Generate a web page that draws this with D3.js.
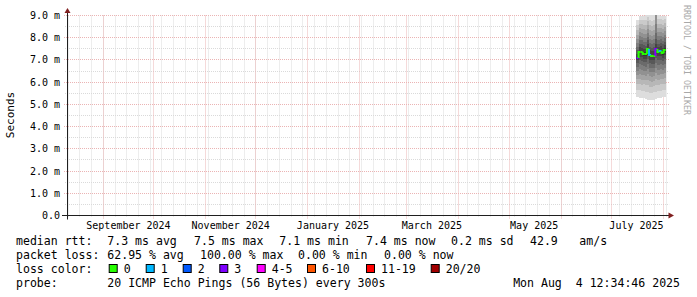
<!DOCTYPE html>
<html><head><meta charset="utf-8">
<script src="https://cdn.jsdelivr.net/npm/d3@7"></script>
<style>
body{margin:0;background:#fff}
svg{display:block}
text{font-family:"DejaVu Sans Mono",monospace;white-space:pre}
</style>
</head><body>
<svg id="c" width="697" height="297"></svg>
<script>
// ---------- data ----------
const timeStart = "2024-08-10T08:24:00Z";
const timeEnd = "2025-08-04T12:34:46Z";
const yTicks = [0, 1, 2, 3, 4, 5, 6, 7, 8, 9];               // ms
const yTickLabels = ["0.0", "1.0 m", "2.0 m", "3.0 m", "4.0 m", "5.0 m", "6.0 m", "7.0 m", "8.0 m", "9.0 m"];
const monthLabelDates = ["2024-09-01", "2024-11-01", "2025-01-01", "2025-03-01", "2025-05-01", "2025-07-01"];
const monthLabels = ["September 2024", "November 2024", "January 2025", "March 2025", "May 2025", "July 2025"];

const colTimes = ["2025-07-16T00:00Z", "2025-07-17T06:00Z", "2025-07-18T12:00Z", "2025-07-19T18:00Z",
  "2025-07-21T00:00Z", "2025-07-22T06:00Z", "2025-07-23T12:00Z", "2025-07-24T18:00Z",
  "2025-07-26T00:00Z", "2025-07-27T06:00Z", "2025-07-28T12:00Z", "2025-07-29T18:00Z",
  "2025-07-31T00:00Z", "2025-08-01T06:00Z"];
const colLastEnd = "2025-08-02T12:00Z";
const medians = [7.09, 7.36, 7.36, 7.27, 7.27, 7.49, 7.22, 7.18, 7.18, 7.49, 7.36, 7.40, 7.31, 7.45]; // ms
const lossIdx = [3, 0, 0, 0, 0, 0, 1, 0, 0, 3, 0, 1, 0, 0];   // index into loss legend
// 20 sorted ping rtts per column (ms)
const pings = [
  [5.32, 5.66, 5.92, 6.14, 6.34, 6.52, 6.70, 6.86, 6.98, 7.06, 7.12, 7.28, 7.44, 7.60, 7.78, 7.96, 8.14, 8.34, 8.56, 8.80],
  [5.30, 5.64, 5.92, 6.16, 6.38, 6.60, 6.80, 6.98, 7.14, 7.30, 7.42, 7.58, 7.74, 7.90, 8.06, 8.24, 8.42, 8.60, 8.80, 8.98],
  [5.28, 5.60, 5.88, 6.12, 6.34, 6.56, 6.78, 6.96, 7.14, 7.30, 7.42, 7.56, 7.72, 7.88, 8.04, 8.22, 8.40, 8.60, 8.82, 9.00],
  [5.30, 5.62, 5.90, 6.12, 6.32, 6.52, 6.72, 6.90, 7.06, 7.20, 7.34, 7.50, 7.66, 7.82, 8.00, 8.18, 8.38, 8.58, 8.80, 9.00],
  [5.26, 5.58, 5.86, 6.10, 6.30, 6.50, 6.70, 6.90, 7.06, 7.20, 7.34, 7.48, 7.64, 7.80, 7.98, 8.16, 8.36, 8.58, 8.82, 9.02],
  [5.22, 5.56, 5.86, 6.12, 6.36, 6.60, 6.84, 7.04, 7.24, 7.42, 7.56, 7.72, 7.88, 8.04, 8.20, 8.38, 8.56, 8.74, 8.92, 9.06],
  [5.20, 5.52, 5.80, 6.04, 6.26, 6.46, 6.66, 6.86, 7.02, 7.16, 7.28, 7.44, 7.60, 7.78, 7.96, 8.14, 8.34, 8.56, 8.80, 9.04],
  [5.20, 5.50, 5.78, 6.02, 6.24, 6.44, 6.64, 6.82, 6.98, 7.12, 7.24, 7.40, 7.56, 7.74, 7.92, 8.10, 8.30, 8.52, 8.76, 9.02],
  [5.22, 5.54, 5.82, 6.06, 6.28, 6.48, 6.66, 6.84, 7.00, 7.12, 7.24, 7.40, 7.58, 7.76, 7.94, 8.14, 8.34, 8.56, 8.80, 9.04],
  [5.26, 5.58, 5.88, 6.14, 6.40, 6.64, 6.88, 7.08, 7.26, 7.42, 7.56, 7.74, 7.94, 8.20, 8.60, 9.20, 9.40, 9.50, 9.60, 9.70],
  [5.28, 5.60, 5.88, 6.12, 6.34, 6.56, 6.78, 6.98, 7.16, 7.30, 7.42, 7.58, 7.74, 7.90, 8.08, 8.26, 8.44, 8.64, 8.84, 9.02],
  [5.30, 5.62, 5.90, 6.14, 6.38, 6.60, 6.82, 7.02, 7.20, 7.34, 7.46, 7.62, 7.78, 7.94, 8.10, 8.28, 8.46, 8.64, 8.84, 9.00],
  [5.32, 5.64, 5.92, 6.16, 6.36, 6.56, 6.76, 6.94, 7.10, 7.24, 7.38, 7.54, 7.70, 7.86, 8.02, 8.20, 8.38, 8.58, 8.78, 8.96],
  [5.34, 5.66, 5.94, 6.18, 6.40, 6.62, 6.84, 7.04, 7.22, 7.38, 7.52, 7.66, 7.82, 7.98, 8.14, 8.30, 8.48, 8.66, 8.84, 9.00]
];
const lossLabels = ["0", "1", "2", "3", "4-5", "6-10", "11-19", "20/20"];
const lossColors = ["#26ff00", "#00b8ff", "#0059ff", "#7e00ff", "#ff00ff", "#ff5500", "#ff0000", "#a10000"];
const legendRtt = [["median rtt:", 16], ["7.3 ms avg", 107.3], ["7.5 ms max", 194], ["7.1 ms min", 279.3],
  ["7.4 ms now", 366], ["0.2 ms sd", 451], ["42.9", 530], ["am/s", 579.3]];
const legendLoss = [["packet loss:", 16], ["62.95 % avg", 107.3], ["100.00 % max", 200], ["0.00 % min", 298], ["0.00 % now", 384]];
const lossBoxX = [108.7, 145.7, 182.7, 219.3, 256.7, 307, 366, 430.7];
const probeText = "20 ICMP Echo Pings (56 Bytes) every 300s";
const dateText = "Mon Aug  4 12:34:46 2025";

// ---------- drawing ----------
const svg = d3.select("#c");
const X0 = 67, X1 = 669.2, Y0 = 215.5, Y1 = 15.5;
const x = d3.scaleUtc().domain([new Date(timeStart), new Date(timeEnd)]).range([X0, X1]);
const y = d3.scaleLinear().domain([0, 9]).range([Y0, Y1]);
const snap = v => Math.round(v - 0.5) + 0.5;

const minorCol = "#dadada", majorCol = "#ebb4b4";
const grid = svg.append("g");
// vertical minor (weeks)
d3.utcSunday.range(new Date(timeStart), new Date(timeEnd)).forEach(d => {
  const xx = snap(x(d));
  grid.append("line").attr("x1", xx).attr("x2", xx).attr("y1", Y1).attr("y2", Y0 + 2)
    .attr("stroke", minorCol).attr("stroke-dasharray", "1,1");
});
// horizontal minor (0.5 ms)
d3.range(0.5, 9, 1).forEach(v => {
  const yy = snap(y(v));
  grid.append("line").attr("x1", X0 - 2).attr("x2", X1).attr("y1", yy).attr("y2", yy)
    .attr("stroke", minorCol).attr("stroke-dasharray", "1,1");
});
// vertical major (months)
d3.utcMonth.range(new Date(timeStart), new Date(timeEnd)).forEach(d => {
  const xx = snap(x(d));
  grid.append("line").attr("x1", xx).attr("x2", xx).attr("y1", Y1).attr("y2", Y0 + 3)
    .attr("stroke", majorCol).attr("stroke-dasharray", "1,1");
});
// horizontal major
yTicks.slice(1).forEach(v => {
  const yy = snap(y(v));
  grid.append("line").attr("x1", X0 - 3).attr("x2", X1).attr("y1", yy).attr("y2", yy)
    .attr("stroke", majorCol).attr("stroke-dasharray", "1,1");
});

// smoke
svg.append("clipPath").attr("id", "pc").append("rect")
  .attr("x", X0).attr("y", Y1 - 0.5).attr("width", X1 - X0).attr("height", Y0 - Y1);
const smoke = svg.append("g").attr("clip-path", "url(#pc)");
const half = 10;
pings.forEach((p, j) => {
  const xa = x(new Date(colTimes[j]));
  const xb = x(new Date(j + 1 < colTimes.length ? colTimes[j + 1] : colLastEnd));
  for (let i = 1; i <= half; i++) {
    const c = Math.floor(190 / half * (half - i)) + 50;
    const top = y(p[20 - i]), bot = y(p[i - 1]);
    smoke.append("rect").attr("x", xa).attr("width", xb - xa)
      .attr("y", top).attr("height", bot - top)
      .attr("fill", d3.rgb(c, c, c)).attr("shape-rendering", "crispEdges");
  }
});
// median
const med = svg.append("g").attr("clip-path", "url(#pc)");
medians.forEach((m, j) => {
  const xa = x(new Date(colTimes[j]));
  const xb = x(new Date(j + 1 < colTimes.length ? colTimes[j + 1] : colLastEnd));
  const yp = j > 0 ? y(medians[j - 1]) : y(m);
  med.append("path")
    .attr("d", `M${xa},${yp}V${y(m)}H${xb}`)
    .attr("fill", "none").attr("stroke", lossColors[lossIdx[j]]).attr("stroke-width", 2);
});

// axes
const axisCol = "#1f1f1f", arrowCol = "#801f1f";
svg.append("line").attr("x1", X0 + 0.5).attr("x2", X0 + 0.5).attr("y1", Y0 + 4).attr("y2", 12)
  .attr("stroke", axisCol);
svg.append("line").attr("x1", X0 - 5).attr("x2", 670).attr("y1", Y0).attr("y2", Y0)
  .attr("stroke", axisCol);
svg.append("path").attr("d", "M64.5,13L70.5,13L67.5,8Z").attr("fill", arrowCol);
svg.append("path").attr("d", "M668.5,212.5L668.5,218.5L674,215.5Z").attr("fill", arrowCol);

// y tick labels
svg.append("g").selectAll("text").data(yTicks).join("text")
  .attr("x", 60).attr("y", v => y(v)).attr("dy", "0.35em")
  .attr("text-anchor", "end").attr("font-size", "10px").attr("fill", "#000")
  .text((v, i) => yTickLabels[i]);
// x tick labels (rrdtool centres label at time + precision/2 = 15 days)
svg.append("g").selectAll("text").data(monthLabelDates).join("text")
  .attr("x", d => x(d3.utcDay.offset(new Date(d + "T00:00Z"), 15)))
  .attr("y", 228.5).attr("text-anchor", "middle").attr("font-size", "10px").attr("fill", "#000")
  .text((d, i) => monthLabels[i]);

// axis title
svg.append("text").attr("transform", "translate(14,115) rotate(-90)")
  .attr("text-anchor", "middle").attr("font-size", "11px").attr("fill", "#000").text("Seconds");
// watermark
svg.append("text").attr("transform", "translate(684,5) rotate(90)")
  .attr("text-anchor", "start").attr("font-size", "8.3px").attr("fill", "#a8a8a8")
  .text("RRDTOOL / TOBI OETIKER");

// legend
const fs = "11.56px";
const lg = svg.append("g").attr("font-size", fs).attr("fill", "#000");
legendRtt.forEach(([t, xx]) => lg.append("text").attr("x", xx).attr("y", 245).text(t));
legendLoss.forEach(([t, xx]) => lg.append("text").attr("x", xx).attr("y", 259).text(t));
lg.append("text").attr("x", 16).attr("y", 273).text("loss color:");
lossLabels.forEach((t, i) => {
  lg.append("rect").attr("x", lossBoxX[i] + 0.5).attr("y", 264.5).attr("width", 8).attr("height", 8)
    .attr("fill", lossColors[i]).attr("stroke", "#000");
  lg.append("text").attr("x", lossBoxX[i] + 15).attr("y", 273).text(t);
});
lg.append("text").attr("x", 16).attr("y", 287).text("probe:");
lg.append("text").attr("x", 107.3).attr("y", 287).text(probeText);
lg.append("text").attr("x", 680).attr("y", 287).attr("text-anchor", "end").text(dateText);
</script>
</body></html>
